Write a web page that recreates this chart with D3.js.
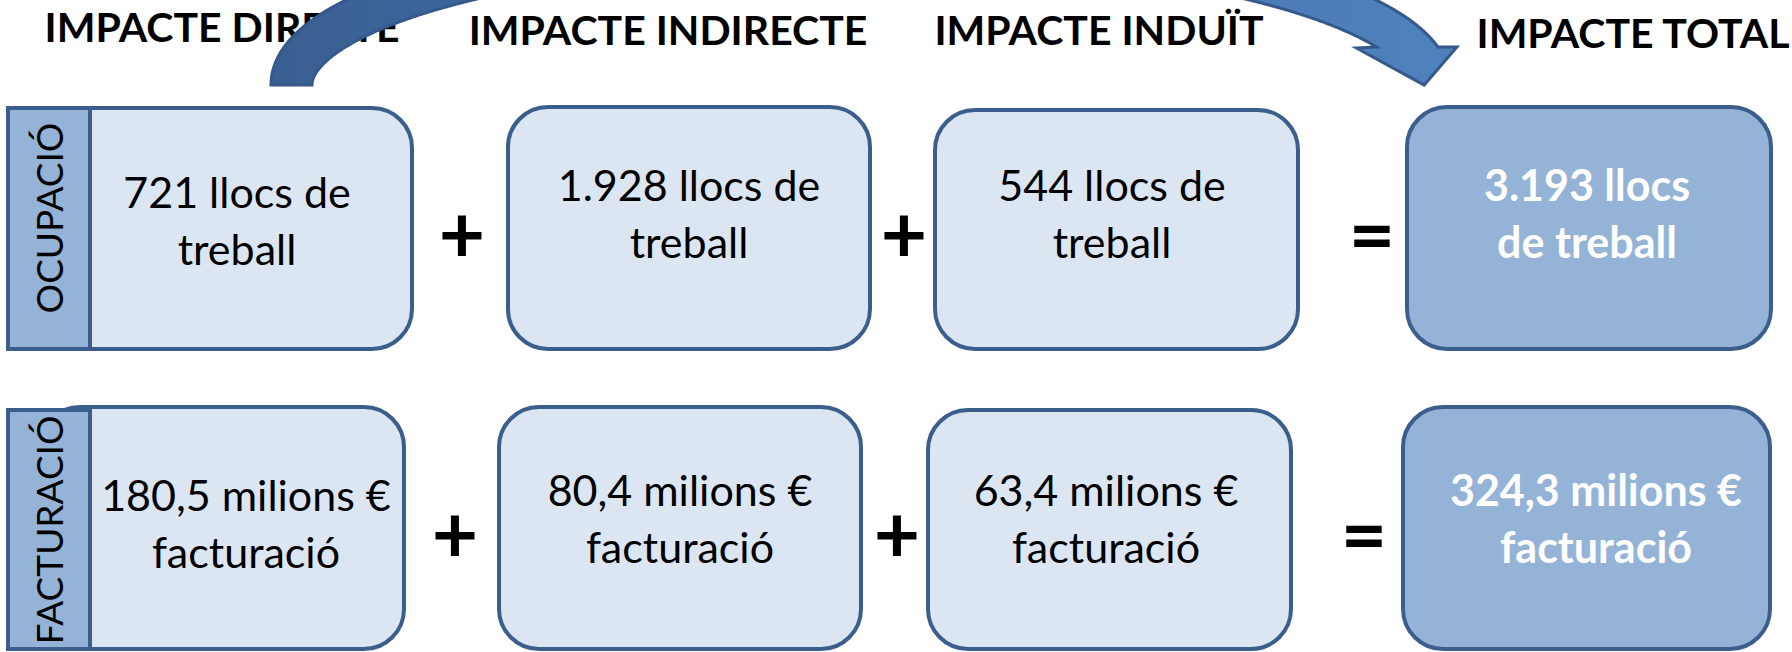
<!DOCTYPE html>
<html>
<head>
<meta charset="utf-8">
<script src="https://cdn.jsdelivr.net/npm/d3@7/dist/d3.min.js"></script>
<style>
  html, body { margin: 0; padding: 0; background: #fff; }
  svg { display: block; font-family: Lato, "Open Sans", sans-serif; }
</style>
</head>
<body>
<div id="chart"></div>
<script>
// data
var impactes = ["IMPACTE DIRECTE", "IMPACTE INDIRECTE", "IMPACTE INDUÏT", "IMPACTE TOTAL"];
var metrics = ["OCUPACIÓ", "FACTURACIÓ"];
var llocs = [721, 1928, 544, 3193];
var milions = [180.5, 80.4, 63.4, 324.3];
var operators = ["+", "+", "="];

var W = 1792, H = 652;

var ca = d3.formatLocale({decimal: ",", thousands: ".", grouping: [3], currency: ["", " €"]});
var fmtInt = ca.format(",d"), fmtDec = ca.format(",.1f");

// layout (kept apart from the data)
var rowBand = d3.scaleOrdinal().domain(metrics).range([[106, 351], [405, 651]]);
var boxX = [
  d3.scaleOrdinal().domain(impactes).range([[38, 414], [506, 872], [933, 1300], [1405, 1773]]),
  d3.scaleOrdinal().domain(impactes).range([[38, 406], [497, 863], [926, 1293], [1401, 1772]])
];
var boxTopShift = [[0, -1, 2, -1], [0, 0, 3, 0]];
var textX = [
  d3.scaleOrdinal().domain(impactes).range([237, 689, 1112, 1587]),
  d3.scaleOrdinal().domain(impactes).range([246, 680, 1106, 1596])
];
var textBase = [[208, 201, 201, 201], [511, 506, 506, 506]];
var lineGap = 57;
var headerX = d3.scaleOrdinal().domain(impactes).range([222, 668, 1099, 1633]);
var headerBase = [42, 45, 45, 48];
var opX = [[462, 904, 1372], [455, 897, 1364]];
var opY = [236, 536];
var strip = {x0: 6, x1: 92, labelX: 63, labelY: [218, 530], topShift: [0, 3]};

var colLight = "#dce6f2", colDark = "#95b3d7", colLine = "#3b5e8d";

var svg = d3.select("#chart").append("svg")
  .attr("width", W).attr("height", H);

svg.append("rect").attr("width", W).attr("height", H).attr("fill", "#fff");

// headers
svg.append("g").selectAll("text")
  .data(impactes)
  .join("text")
  .attr("x", function (d) { return headerX(d); })
  .attr("y", function (d, i) { return headerBase[i]; })
  .attr("text-anchor", "middle")
  .attr("font-weight", "bold")
  .attr("font-size", 41)
  .attr("fill", "#000")
  .text(function (d) { return d; });

function lines(mi, i) {
  if (mi === 0) {
    var n = fmtInt(llocs[i]);
    return i === 3 ? [n + " llocs", "de treball"] : [n + " llocs de", "treball"];
  }
  return [fmtDec(milions[i]) + " milions €", "facturació"];
}

metrics.forEach(function (m, mi) {
  var band = rowBand(m);
  var g = svg.append("g").attr("class", "row");

  var cells = g.selectAll("g.cell")
    .data(impactes)
    .join("g")
    .attr("class", "cell");

  cells.append("rect")
    .attr("x", function (d) { return boxX[mi](d)[0] + 2; })
    .attr("y", function (d, i) { return band[0] + boxTopShift[mi][i] + 2; })
    .attr("width", function (d) { return boxX[mi](d)[1] - boxX[mi](d)[0] - 4; })
    .attr("height", function (d, i) { return band[1] - band[0] - boxTopShift[mi][i] - 4; })
    .attr("rx", 40).attr("ry", 40)
    .attr("fill", function (d, i) { return i === 3 ? colDark : colLight; })
    .attr("stroke", colLine)
    .attr("stroke-width", 4);

  cells.each(function (d, i) {
    var t = d3.select(this).append("text")
      .attr("text-anchor", "middle")
      .attr("font-size", 43)
      .attr("font-weight", i === 3 ? "bold" : "normal")
      .attr("fill", i === 3 ? "#fff" : "#000");
    lines(mi, i).forEach(function (s, k) {
      t.append("tspan")
        .attr("x", textX[mi](d))
        .attr("y", textBase[mi][i] + k * lineGap)
        .text(s);
    });
  });

  // side label strip
  var sy0 = band[0] + strip.topShift[mi];
  g.append("rect")
    .attr("x", strip.x0 + 2).attr("y", sy0 + 2)
    .attr("width", strip.x1 - strip.x0 - 4)
    .attr("height", band[1] - sy0 - 4)
    .attr("fill", colDark)
    .attr("stroke", colLine)
    .attr("stroke-width", 4);
  g.append("text")
    .attr("transform", "translate(" + strip.labelX + "," + strip.labelY[mi] + ") rotate(-90)")
    .attr("text-anchor", "middle")
    .attr("font-size", 37)
    .attr("fill", "#000")
    .text(m);

  // + + =
  g.selectAll("text.op")
    .data(operators)
    .join("text")
    .attr("class", "op")
    .attr("x", function (d, i) { return opX[mi][i]; })
    .attr("y", opY[mi] + 27)
    .attr("text-anchor", "middle")
    .attr("font-size", 80)
    .attr("font-weight", "bold")
    .attr("fill", "#000")
    .text(function (d) { return d; });
});

// curved arrow from the direct impact to the total
var arc = {cx: 861, cy: 85, rx: 569.5, ry: 145, w: 41, headY: 47};

function edgePoint(t, off) {
  var x = arc.cx + arc.rx * Math.cos(t), y = arc.cy - arc.ry * Math.sin(t);
  var nx = Math.cos(t) / arc.rx, ny = -Math.sin(t) / arc.ry, L = Math.hypot(nx, ny);
  return [x + nx / L * off, y + ny / L * off];
}

function edge(off) {
  var pts = [], prev = null;
  for (var t = Math.PI; t > 0; t -= 0.002) {
    var p = edgePoint(t, off);
    if (t < Math.PI / 2 && p[1] >= arc.headY) {
      var f = (arc.headY - prev[1]) / (p[1] - prev[1]);
      pts.push([prev[0] + f * (p[0] - prev[0]), arc.headY]);
      break;
    }
    pts.push(p);
    prev = p;
  }
  return pts;
}

var outer = edge(arc.w / 2), inner = edge(-arc.w / 2);
var so = outer[outer.length - 1], si = inner[inner.length - 1];
var head = [
  [so[0] + 19, arc.headY],
  [(so[0] + si[0]) / 2 + 17, arc.cy],
  [si[0] - 20, arc.headY + 1]
];
var shape = outer.concat(head, inner.slice().reverse());

var grad = svg.append("defs").append("linearGradient")
  .attr("id", "arrowGrad")
  .attr("gradientUnits", "userSpaceOnUse")
  .attr("x1", arc.cx - arc.rx).attr("x2", arc.cx + arc.rx)
  .attr("y1", 0).attr("y2", 0);
grad.append("stop").attr("offset", 0).attr("stop-color", "#3a6093");
grad.append("stop").attr("offset", 1).attr("stop-color", "#4f81bd");

svg.append("path")
  .attr("d", d3.line()(shape) + "Z")
  .attr("fill", "url(#arrowGrad)")
  .attr("stroke", "#35598a")
  .attr("stroke-width", 3)
  .attr("stroke-linejoin", "miter");
</script>
</body>
</html>
